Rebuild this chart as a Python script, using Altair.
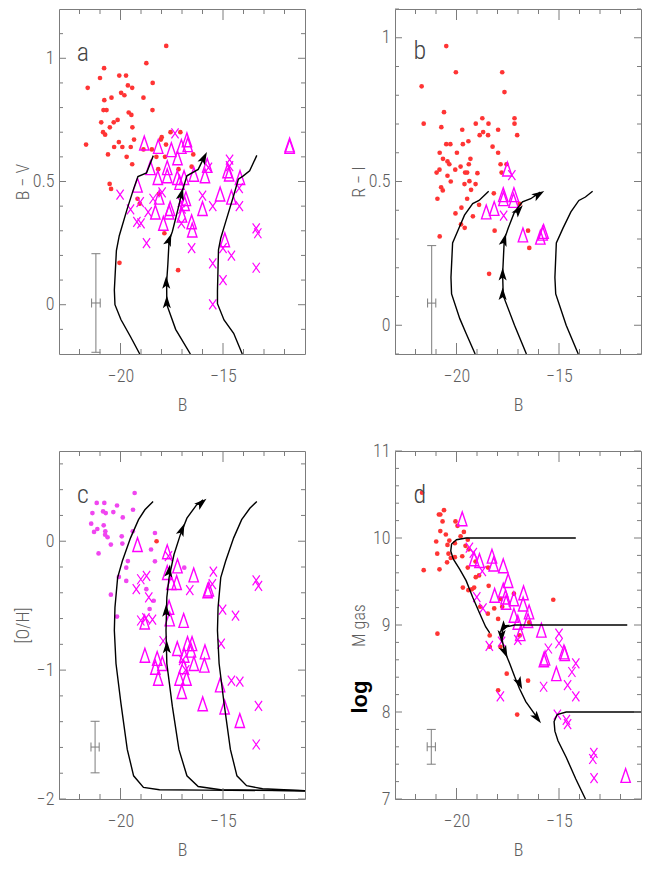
import altair as alt
import pandas as pd

# ---------------- data ----------------
X_DOMAIN = [-23, -11]
X_LABELS = [-20, -15]
X_MAJOR = [-20, -15]
X_MINOR = [-22, -21, -19, -18, -17, -16, -14, -13, -12]

# panel a : B-V
A_YDOM = [-0.2, 1.2]
A_YLAB = [0, 0.5, 1]
A_YMIN = [-0.1, 0.1, 0.2, 0.3, 0.4, 0.6, 0.7, 0.8, 0.9, 1.1]
A_DOT_B = [-17.77, -18.74, -20.80, -21.0, -20.06, -19.73, -21.6, -19.64, -19.43, -18.43, -19.97, -19.81, -20.44, -18.88,
           -20.79, -20.83, -20.68, -18.44, -19.6, -19.47, -20.14, -20.94, -20.33, -20.52, -19.42, -20.85, -20.75, -17.56,
           -17.08, -19.34, -20.08, -17.99, -21.68, -20.31, -19.91, -19.5, -18.03, -17.78, -18.88, -18.47, -20.61, -19.7,
           -18.25, -17.83, -16.45, -19.43, -18.16, -17.17, -16.53, -20.53, -20.46, -19.17, -19.06, -18.13, -17.86, -20.05,
           -17.19]
A_DOT_C = [1.05, 0.98, 0.96, 0.92, 0.93, 0.93, 0.88, 0.89, 0.88, 0.90, 0.86, 0.85, 0.84, 0.84,
           0.83, 0.79, 0.79, 0.79, 0.78, 0.77, 0.75, 0.74, 0.74, 0.72, 0.72, 0.70, 0.69, 0.70,
           0.70, 0.67, 0.66, 0.68, 0.65, 0.64, 0.64, 0.64, 0.67, 0.65, 0.63, 0.63, 0.61, 0.60,
           0.60, 0.60, 0.61, 0.57, 0.55, 0.55, 0.56, 0.49, 0.47, 0.43, 0.41, 0.45, 0.29, 0.17,
           0.14]
A_TRI_B = [-18.84, -18.16, -17.52, -16.76, -17.03, -16.72, -17.22, -19.17, -18.54, -18.18, -17.72, -17.72, -17.23,
           -17.12, -16.9, -16.42, -15.77, -15.88, -18.11, -18.3, -17.63, -17.58, -17.91, -17.0, -16.81, -16.87, -16.53,
           -16.5, -16.0, -15.14, -14.59, -14.78, -14.7, -14.17, -14.91, -11.75, -11.75]
A_TRI_C = [0.656, 0.642, 0.629, 0.669, 0.642, 0.649, 0.596, 0.485, 0.556, 0.516, 0.556, 0.523, 0.516,
           0.496, 0.516, 0.529, 0.565, 0.523, 0.436, 0.376, 0.376, 0.39, 0.33, 0.363, 0.43, 0.41, 0.336,
           0.303, 0.39, 0.449, 0.436, 0.543, 0.53, 0.516, 0.263, 0.642, 0.648]
A_X_B = [-20.02, -19.51, -19.2, -19.0, -19.04, -18.73, -18.65, -18.41, -17.97, -17.34, -17.04, -17.03, -17.0, -16.53,
         -16.0, -15.71, -15.5, -15.5, -15.5, -15.0, -15.0, -14.59, -14.68, -14.68, -14.21, -14.2, -13.38, -13.3, -13.38]
A_X_C = [0.447, 0.387, 0.336, 0.33, 0.416, 0.25, 0.376, 0.43, 0.456, 0.695, 0.416, 0.33, 0.39, 0.23,
         0.443, 0.556, 0.4, 0.168, 0.001, 0.1, 0.23, 0.199, 0.589, 0.562, 0.473, 0.4, 0.31, 0.29, 0.15]
A_TRACK1_B = [-19.06, -19.51, -19.98, -20.27, -20.3, -20.2, -20.06, -19.67, -19.36, -19.15, -18.73, -18.4]
A_TRACK1_C = [-0.2, -0.13, -0.06, 0.0, 0.06, 0.22, 0.28, 0.39, 0.47, 0.52, 0.535, 0.605]
A_TRACK2_B = [-16.59, -17.31, -17.74, -17.75, -17.69, -17.63, -17.47, -17.31, -17.15, -17.03, -16.76, -16.21, -15.9]
A_TRACK2_C = [-0.2, -0.10, 0.0, 0.09, 0.164, 0.259, 0.297, 0.35, 0.403, 0.449, 0.523, 0.549, 0.602]
A_TRACK3_B = [-14.06, -14.48, -14.95, -15.27, -15.27, -15.22, -15.11, -14.87, -14.48, -14.25, -14.01, -13.7, -13.35]
A_TRACK3_C = [-0.2, -0.116, -0.062, 0.004, 0.057, 0.223, 0.27, 0.336, 0.443, 0.509, 0.523, 0.543, 0.606]
A_ARROW_B = [-17.74, -17.77, -17.63, -17.03, -15.93]
A_ARROW_C = [0.011, 0.09, 0.263, 0.449, 0.596]
A_ARROW_ANG = [0, 0, 20, 15, 27]
A_ERR = [-21.2, 0.007, 0.21, 0.2]          # x, y, x-error, y-error
A_TAG = ["a", -21.84, 1.02]

# panel b : R-I
B_YDOM = [-0.1, 1.1]
B_YLAB = [0, 0.5, 1]
B_YMIN = [-0.1, 0.1, 0.2, 0.3, 0.4, 0.6, 0.7, 0.8, 0.9, 1.1]
B_DOT_B = [-20.5, -20.03, -21.7, -17.77, -17.66, -20.61, -21.6, -20.74, -19.06, -18.74, -18.44, -19.72, -18.87, -18.7,
           -18.46, -17.97, -17.17, -17.17, -17.04, -20.5, -20.3, -19.69, -19.42, -18.24, -20.82, -19.98, -17.97, -20.66,
           -20.44, -20.35, -19.32, -19.4, -20.06, -19.8, -20.83, -20.97, -19.58, -19.48, -18.98, -17.85, -17.56, -17.8,
           -20.44, -20.28, -19.61, -19.37, -19.07, -20.75, -20.67, -19.29, -20.93, -19.48, -18.9, -18.18, -19.76, -20.05,
           -19.2, -16.92, -19.78, -19.6, -18.14, -16.51, -20.82, -16.45, -18.41]
B_DOT_C = [0.971, 0.880, 0.831, 0.880, 0.811, 0.741, 0.701, 0.689, 0.701, 0.72, 0.701, 0.68, 0.661, 0.672,
           0.661, 0.68, 0.72, 0.701, 0.661, 0.63, 0.63, 0.63, 0.64, 0.621, 0.6, 0.6, 0.6, 0.579,
           0.57, 0.56, 0.579, 0.56, 0.541, 0.552, 0.541, 0.531, 0.531, 0.531, 0.529, 0.56, 0.56, 0.531,
           0.52, 0.5, 0.491, 0.501, 0.491, 0.48, 0.469, 0.471, 0.44, 0.44, 0.419, 0.459, 0.409, 0.389,
           0.379, 0.422, 0.351, 0.339, 0.329, 0.329, 0.309, 0.269, 0.179]
B_TRI_B = [-17.52, -18.55, -18.16, -17.72, -17.71, -17.2, -17.22, -16.76, -15.91, -15.75, -15.8]
B_TRI_C = [0.543, 0.394, 0.406, 0.454, 0.44, 0.454, 0.434, 0.314, 0.306, 0.326, 0.32]
B_X_B = [-17.3, -17.7]
B_X_C = [0.522, 0.381]
B_TRACK1_B = [-19.09, -19.53, -19.84, -20.24, -20.27, -20.19, -19.92, -19.61, -19.21, -18.9, -18.43]
B_TRACK1_C = [-0.1, -0.029, 0.023, 0.109, 0.166, 0.286, 0.331, 0.383, 0.423, 0.434, 0.466]
B_TRACK2_B = [-16.59, -17.17, -17.72, -17.75, -17.67, -17.48, -17.17, -16.78, -16.38, -15.91]
B_TRACK2_C = [-0.1, 0.0, 0.103, 0.177, 0.297, 0.337, 0.394, 0.429, 0.44, 0.463]
B_TRACK3_B = [-14.06, -14.65, -15.16, -15.2, -15.13, -14.81, -14.42, -14.03, -13.71, -13.36]
B_TRACK3_C = [-0.1, 0.0, 0.109, 0.166, 0.286, 0.337, 0.394, 0.434, 0.446, 0.466]
B_ARROW_B = [-17.75, -17.75, -17.67, -16.97, -15.99]
B_ARROW_C = [0.109, 0.177, 0.297, 0.40, 0.455]
B_ARROW_ANG = [0, 0, 15, 40, 58]
B_ERR = [-21.21, 0.077, 0.2, 0.2]
B_TAG = ["b", -21.79, 0.954]

# panel c : [O/H]
C_YDOM = [-2, 0.7]
C_YLAB = [-2, -1, 0]
C_YMIN = [-1.8, -1.6, -1.4, -1.2, -0.8, -0.6, -0.4, -0.2, 0.2, 0.4, 0.6]
C_DOT_B = [-19.31, -21.16, -20.79, -20.17, -21.37, -20.85, -20.72, -20.35, -19.39, -19.89, -21.43, -20.82, -21.13,
           -21.29, -20.74, -20.75, -20.63, -19.94, -19.4, -18.32, -19.91, -20.47, -18.51, -21.07, -18.32, -19.64,
           -19.72, -16.89, -20.08, -19.72, -18.74, -18.38, -20.47, -18.58, -20.17]
C_DOT_C = [0.374, 0.297, 0.297, 0.277, 0.218, 0.231, 0.218, 0.226, 0.244, 0.185, 0.136, 0.123, 0.095,
           0.072, 0.077, 0.051, 0.031, 0.038, 0.077, 0.064, -0.018, -0.026, -0.064, -0.095, -0.156, -0.154,
           -0.205, -0.205, -0.277, -0.308, -0.372, -0.462, -0.415, -0.526, -0.585]
C_RED_B = [-18.24]
C_RED_C = [0.0]
C_TRI_B = [-19.17, -17.72, -17.22, -17.72, -16.43, -17.52, -17.26, -17.63, -17.6, -16.92, -18.82, -15.69, -15.75,
           -17.23, -16.73, -16.51, -16.56, -16.89, -15.88, -18.81, -18.21, -18.3, -17.96, -15.91, -16.42, -16.92,
           -17.12, -16.78, -18.16, -17.01, -15.14, -15.99, -14.92, -14.18]
C_TRI_C = [-0.026, -0.082, -0.192, -0.244, -0.262, -0.321, -0.321, -0.513, -0.603, -0.615, -0.628, -0.372, -0.385,
           -0.833, -0.795, -0.795, -0.846, -0.885, -0.859, -0.885, -0.91, -0.979, -0.949, -0.962, -0.949, -0.974,
           -1.064, -1.064, -1.064, -1.167, -1.115, -1.262, -1.287, -1.392]
C_X_B = [-19.01, -18.73, -19.23, -18.62, -19.01, -18.76, -18.44, -17.66, -17.92, -16.62, -16.97, -16.82, -15.47,
         -15.52, -15.02, -14.39, -15.09, -14.59, -14.18, -13.38, -13.27, -13.27, -13.38]
C_X_C = [-0.295, -0.269, -0.372, -0.436, -0.615, -0.597, -0.608, -0.115, -0.774, -0.379, -0.923, -1.0, -0.236,
         -0.333, -0.531, -0.577, -0.795, -1.082, -1.09, -0.303, -0.346, -1.277, -1.577]
C_TRACK1_B = [-18.41, -18.81, -19.12, -19.51, -19.91, -20.14, -20.27, -20.3, -20.22, -19.98, -19.67, -19.36, -18.88,
              -18.1, -15.9, -11.0]
C_TRACK1_C = [0.308, 0.244, 0.167, 0.026, -0.154, -0.282, -0.513, -0.692, -0.949, -1.256, -1.615, -1.82, -1.91,
              -1.928, -1.931, -1.936]
C_TRACK2_B = [-15.97, -16.29, -16.76, -17.08, -17.39, -17.63, -17.74, -17.78, -17.74, -17.47, -17.15, -16.76, -16.21,
              -15.11, -11.0]
C_TRACK2_C = [0.321, 0.282, 0.179, 0.051, -0.103, -0.282, -0.436, -0.692, -0.949, -1.282, -1.615, -1.82, -1.903,
              -1.928, -1.936]
C_TRACK3_B = [-13.35, -13.69, -14.09, -14.48, -14.87, -15.11, -15.24, -15.27, -15.19, -14.95, -14.64, -14.32, -13.85,
              -13.07, -11.0]
C_TRACK3_C = [0.308, 0.256, 0.167, 0.026, -0.154, -0.282, -0.513, -0.692, -0.949, -1.256, -1.615, -1.82, -1.897,
              -1.92, -1.936]
C_ARROW_B = [-17.74, -17.77, -17.63, -17.0, -16.05]
C_ARROW_C = [-0.821, -0.538, -0.231, 0.09, 0.297]
C_ARROW_ANG = [0, 0, 8, 22, 50]
C_ERR = [-21.24, -1.597, 0.2, 0.2]
C_TAG = ["c", -21.84, 0.36]

# panel d : log M gas
D_YDOM = [7, 11]
D_YLAB = [7, 8, 9, 10, 11]
D_YMIN = [7.2, 7.4, 7.6, 7.8, 8.2, 8.4, 8.6, 8.8, 9.2, 9.4, 9.6, 9.8, 10.2, 10.4, 10.6, 10.8]
D_DOT_B = [-21.68, -20.61, -20.86, -20.79, -20.68, -20.05, -19.95, -20.79, -19.64, -20.99, -20.52, -20.35, -19.8,
           -19.45, -20.44, -20.08, -19.56, -19.4, -20.94, -20.39, -20.08, -20.28, -19.72, -20.46, -20.83, -21.6,
           -19.45, -19.07, -18.46, -19.06, -19.14, -19.69, -19.25, -19.42, -18.9, -18.84, -18.43, -18.47, -18.16,
           -17.85, -17.97, -17.77, -17.2, -16.92, -16.45, -15.28, -18.38, -18.38, -17.86, -17.55, -17.97, -16.51,
           -17.04, -20.93]
D_DOT_C = [10.52, 10.32, 10.27, 10.27, 10.19, 10.19, 10.14, 10.08, 10.07, 9.96, 10.04, 9.97, 10.02,
           9.98, 9.92, 9.94, 9.91, 9.87, 9.82, 9.82, 9.78, 9.77, 9.79, 9.72, 9.64, 9.63,
           9.66, 9.73, 9.66, 9.55, 9.43, 9.43, 9.41, 9.40, 9.57, 9.21, 9.45, 9.13, 9.19,
           9.30, 9.07, 9.21, 9.36, 8.88, 9.03, 9.29, 8.88, 8.75, 8.75, 8.44, 8.25, 8.36,
           7.97, 8.9]
D_TRI_B = [-19.72, -19.14, -18.88, -18.27, -18.19, -17.72, -17.48, -17.72, -18.14, -17.61, -17.58, -17.2, -16.73,
           -16.75, -16.46, -17.2, -17.01, -16.51, -16.89, -15.86, -15.74, -15.68, -15.13, -14.76, -14.72, -11.75]
D_TRI_C = [10.22, 9.76, 9.74, 9.79, 9.70, 9.68, 9.51, 9.40, 9.34, 9.32, 9.26, 9.30, 9.37,
           9.24, 9.15, 9.11, 9.03, 9.05, 8.90, 8.94, 8.60, 8.62, 8.44, 8.69, 8.67, 7.27]
D_X_B = [-19.37, -19.18, -18.74, -19.01, -18.71, -18.4, -17.8, -17.86, -17.01, -15.75, -15.52, -15.0, -15.0, -14.58,
         -14.37, -14.18, -14.18, -15.08, -14.64, -14.58, -13.3, -13.35, -13.29]
D_X_C = [9.89, 9.83, 9.62, 9.32, 9.19, 8.76, 8.81, 8.18, 8.83, 8.29, 8.73, 8.90, 8.79, 8.31,
         8.46, 8.56, 8.18, 7.97, 7.91, 7.86, 7.53, 7.46, 7.24]
D_TRACK1_B = [-14.18, -19.53, -20.0, -20.24, -20.28, -20.16, -19.84, -19.53, -19.21, -18.9, -18.58, -18.38]
D_TRACK1_C = [10.0, 10.0, 9.98, 9.93, 9.85, 9.76, 9.64, 9.51, 9.32, 9.15, 8.98, 8.91]
D_TRACK2_B = [-11.67, -17.17, -17.56, -17.75, -17.8, -17.67, -17.41, -17.17, -16.93, -16.62, -16.23, -15.99]
D_TRACK2_C = [9.0, 9.0, 8.98, 8.94, 8.86, 8.71, 8.56, 8.41, 8.27, 8.12, 7.99, 7.91]
D_TRACK3_B = [-11.0, -14.65, -15.09, -15.24, -15.2, -15.05, -14.65, -14.18, -13.71]
D_TRACK3_C = [8.0, 8.0, 7.97, 7.89, 7.78, 7.67, 7.48, 7.23, 7.0]
D_ARROW_B = [-17.72, -17.8, -17.64, -16.93, -16.07]
D_ARROW_C = [8.97, 8.87, 8.69, 8.33, 7.93]
D_ARROW_ANG = [215, 180, 156, 155, 143]
D_ERR = [-21.23, 7.6, 0.2, 0.2]
D_TAG = ["d", -21.79, 10.5]

# ---------------- styling ----------------
FONT = "Roboto Condensed, Roboto, Liberation Sans"
FS = 18
GRAY = "#7c7c7c"
TXT = "#5e5e5e"
RED = "#ff3434"
MAG = "#ff00ff"
VIO = "#f046f0"
TRI = "M0,-1L0.68,1L-0.68,1Z"
CROSS = "M-0.72,-1L0.72,1M0.72,-1L-0.72,1"
ARROW = "M0,-1L0.62,0.95L0,0.5L-0.62,0.95Z"
W = 246
XS = alt.Scale(domain=X_DOMAIN, nice=False, zero=False)


def df(xs, ys):
    return pd.DataFrame({"x": xs, "y": ys})


def panel(H, ydom, ylab, ymin, ytitle, dots, dotcol, red, tris, crosses, tracks, arrows, err, tag,
          logword=False):
    YS = alt.Scale(domain=ydom, nice=False, zero=False)
    xaxis = alt.Axis(values=X_LABELS, title="B", format="~g", labelPadding=13, titleY=42, titleBaseline="top",
                     ticks=False, domain=False, grid=False, labelFlush=False, labelOverlap=False)
    yaxis = alt.Axis(values=ylab, title=ytitle, format="~g", labelPadding=5, titleX=-27,
                     ticks=False, domain=False, grid=False, labelFlush=False, labelOverlap=False)

    def X(f="x"):
        return alt.X(f + ":Q", scale=XS, axis=xaxis)

    def Y(f="y"):
        return alt.Y(f + ":Q", scale=YS, axis=yaxis)

    layers = []
    layers.append(alt.Chart(dots).mark_point(shape="circle", filled=True, size=22, color=dotcol,
                                             opacity=1).encode(x=X(), y=Y()))
    if red is not None:
        layers.append(alt.Chart(red).mark_point(shape="circle", filled=True, size=22, color=RED,
                                                opacity=1).encode(x=X(), y=Y()))
    layers.append(alt.Chart(tris).mark_point(shape=TRI, filled=False, size=190, color=MAG, opacity=1,
                                             strokeWidth=1.4).encode(x=X(), y=Y()))
    layers.append(alt.Chart(crosses).mark_point(shape=CROSS, filled=False, size=100, color=MAG, opacity=1,
                                                strokeWidth=1.2).encode(x=X(), y=Y()))
    layers.append(alt.Chart(tracks).mark_line(color="black", strokeWidth=1.4, clip=True).encode(
        x=X(), y=Y(), detail="t:N", order="i:Q"))
    layers.append(alt.Chart(arrows).mark_point(shape=ARROW, filled=True, size=170, color="black",
                                               opacity=1).encode(x=X(), y=Y(),
                                                                 angle=alt.Angle("a:Q", scale=None)))
    # error bar
    ebx, eby, errx, erry = err
    edf = pd.DataFrame({"x": [ebx], "y": [eby], "x1": [ebx - errx], "x2": [ebx + errx],
                        "y1": [eby - erry], "y2": [eby + erry]})
    base = alt.Chart(edf)
    layers.append(base.mark_rule(color=GRAY, strokeWidth=1, clip=True).encode(
        x=X(), y=Y("y1"), y2="y2:Q"))
    layers.append(base.mark_rule(color=GRAY, strokeWidth=1).encode(x=X("x1"), x2="x2:Q", y=Y()))
    capv = pd.DataFrame({"x": [ebx, ebx], "y": [eby - erry, eby + erry]})
    capv = capv[(capv.y >= ydom[0]) & (capv.y <= ydom[1])]
    layers.append(alt.Chart(capv).mark_tick(orient="horizontal", size=9, thickness=1, color=GRAY,
                                            opacity=1).encode(x=X(), y=Y()))
    caph = pd.DataFrame({"x": [ebx - errx, ebx + errx], "y": [eby, eby]})
    layers.append(alt.Chart(caph).mark_tick(orient="vertical", size=9, thickness=1, color=GRAY,
                                            opacity=1).encode(x=X(), y=Y()))
    # panel letter
    tdf = pd.DataFrame({"x": [tag[1]], "y": [tag[2]], "t": [tag[0]]})
    layers.append(alt.Chart(tdf).mark_text(font=FONT, fontSize=26, fontWeight=300, color="#444").encode(
        x=X(), y=Y(), text="t:N"))
    # inward ticks on all four sides
    for vals, ln in [(X_MAJOR, 11), (X_MINOR, 5)]:
        tk = alt.Chart(pd.DataFrame({"x": vals}))
        layers.append(tk.mark_rule(color=GRAY).encode(x=X(), y=alt.value(0), y2=alt.value(ln)))
        layers.append(tk.mark_rule(color=GRAY).encode(x=X(), y=alt.value(H), y2=alt.value(H - ln)))
    for vals, ln in [(ylab, 7), (ymin, 4)]:
        tk = alt.Chart(pd.DataFrame({"y": vals}))
        layers.append(tk.mark_rule(color=GRAY).encode(y=Y(), x=alt.value(0), x2=alt.value(ln)))
        layers.append(tk.mark_rule(color=GRAY).encode(y=Y(), x=alt.value(W), x2=alt.value(W - ln)))
    if logword:
        ldf = pd.DataFrame({"t": ["log"]})
        layers.append(alt.Chart(ldf).mark_text(font="Liberation Sans", fontSize=22, fontWeight="bold",
                                               color="black", angle=270).encode(
            x=alt.value(-35), y=alt.value(246), text="t:N"))
    return alt.layer(*layers).properties(width=W, height=H)


def tracks(*pairs):
    rows = []
    for k, (xs, ys) in enumerate(pairs):
        for i, (x, y) in enumerate(zip(xs, ys)):
            rows.append({"t": k, "i": i, "x": x, "y": y})
    return pd.DataFrame(rows)


def arrows(xs, ys, angs):
    return pd.DataFrame({"x": xs, "y": ys, "a": angs})


H_TOP, H_BOT = 345, 348
pa = panel(H_TOP, A_YDOM, A_YLAB, A_YMIN, "B  \u2212  V", df(A_DOT_B, A_DOT_C), RED, None,
           df(A_TRI_B, A_TRI_C), df(A_X_B, A_X_C),
           tracks((A_TRACK1_B, A_TRACK1_C), (A_TRACK2_B, A_TRACK2_C), (A_TRACK3_B, A_TRACK3_C)),
           arrows(A_ARROW_B, A_ARROW_C, A_ARROW_ANG), A_ERR, A_TAG)
pb = panel(H_TOP, B_YDOM, B_YLAB, B_YMIN, "R  \u2212  I", df(B_DOT_B, B_DOT_C), RED, None,
           df(B_TRI_B, B_TRI_C), df(B_X_B, B_X_C),
           tracks((B_TRACK1_B, B_TRACK1_C), (B_TRACK2_B, B_TRACK2_C), (B_TRACK3_B, B_TRACK3_C)),
           arrows(B_ARROW_B, B_ARROW_C, B_ARROW_ANG), B_ERR, B_TAG)
pc = panel(H_BOT, C_YDOM, C_YLAB, C_YMIN, "[O/H]", df(C_DOT_B, C_DOT_C), VIO, df(C_RED_B, C_RED_C),
           df(C_TRI_B, C_TRI_C), df(C_X_B, C_X_C),
           tracks((C_TRACK1_B, C_TRACK1_C), (C_TRACK2_B, C_TRACK2_C), (C_TRACK3_B, C_TRACK3_C)),
           arrows(C_ARROW_B, C_ARROW_C, C_ARROW_ANG), C_ERR, C_TAG)
pd_ = panel(H_BOT, D_YDOM, D_YLAB, D_YMIN, "M  gas", df(D_DOT_B, D_DOT_C), RED, None,
            df(D_TRI_B, D_TRI_C), df(D_X_B, D_X_C),
            tracks((D_TRACK1_B, D_TRACK1_C), (D_TRACK2_B, D_TRACK2_C), (D_TRACK3_B, D_TRACK3_C)),
            arrows(D_ARROW_B, D_ARROW_C, D_ARROW_ANG), D_ERR, D_TAG, logword=True)

chart = alt.concat(pa, pb, pc, pd_, columns=2, align="each",
                   spacing={"row": 26, "column": 42}).properties(
    padding={"left": 5, "top": 0, "right": 0, "bottom": 0}
).configure_view(
    stroke=GRAY, strokeWidth=1
).configure_axis(
    labelFont=FONT, titleFont=FONT, labelFontSize=FS, titleFontSize=FS,
    labelColor=TXT, titleColor=TXT, labelFontWeight=300, titleFontWeight=300
)

chart.save("out.html", embed_options={"renderer": "svg", "actions": False})
